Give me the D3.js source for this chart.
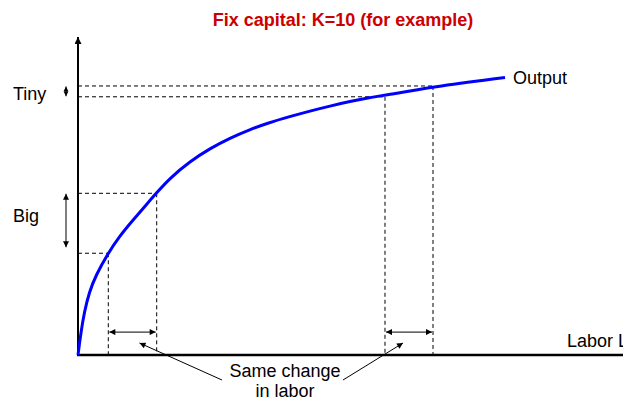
<!DOCTYPE html>
<html>
<head>
<meta charset="utf-8">
<script src="https://cdn.jsdelivr.net/npm/d3@7/dist/d3.min.js"></script>
<style>
  html, body { margin: 0; padding: 0; background: #fff; }
  svg { display: block; }
  text { font-family: "Liberation Sans", Arial, sans-serif; }
</style>
</head>
<body>
<svg id="chart" width="623" height="401"></svg>
<script>
// ---- data ----
const title = "Fix capital: K=10 (for example)";
const labor  = [0, 0.55, 1.16, 2.07, 3.30, 5.50, 7.58, 10.04, 12.48, 14.31, 16.88, 20.55, 24.22, 27.89, 31.56, 34.86, 38.90, 42.57, 46.24, 49.91, 53.58, 56.33, 64.95, 78.35];
const output = [0, 7.23, 13.52, 19.81, 25.16, 31.92, 37.26, 42.30, 47.17, 50.79, 55.66, 60.9, 64.94, 68.24, 70.91, 72.96, 75.00, 76.73, 78.30, 79.72, 80.97, 81.67, 84.28, 87.26];
// the two equal labor changes: [L_start, L_end] and the output at each end
const laborChanges = [[5.56, 14.44], [56.33, 65.14]];
const outputAtChanges = [[32.0, 50.85], [81.2, 84.6]];
const changeLabels = ["Big", "Tiny"];
const curveLabel = "Output";
const xLabel = "Labor L";
const noteLines = ["Same change", "in labor"];

// ---- layout ----
const svg = d3.select("#chart");
const x = d3.scaleLinear().domain([0, 100]).range([78, 623]);
const y = d3.scaleLinear().domain([0, 100]).range([355, 37]);

const defs = svg.append("defs");
function marker(id, w, h) {
  defs.append("marker")
    .attr("id", id)
    .attr("viewBox", "0 0 10 10")
    .attr("refX", 10).attr("refY", 5)
    .attr("markerWidth", w).attr("markerHeight", h)
    .attr("markerUnits", "userSpaceOnUse")
    .attr("orient", "auto-start-reverse")
    .append("path").attr("d", "M0,0 L10,5 L0,10 Z").attr("fill", "#000");
}
marker("ah", 8, 6);
marker("ahs", 5, 6);
marker("axh", 8, 7);

// title
svg.append("text")
  .attr("x", 343).attr("y", 26)
  .attr("text-anchor", "middle")
  .attr("font-size", 18).attr("font-weight", "bold")
  .attr("fill", "#cc0000")
  .text(title);

// dashed guide lines
const dash = svg.append("g").attr("stroke", "#000").attr("stroke-width", 1)
  .attr("stroke-dasharray", "4,3").attr("fill", "none");
laborChanges.forEach((pair, i) => {
  pair.forEach((L, j) => {
    const Y = outputAtChanges[i][j];
    dash.append("line")
      .attr("x1", x(0)).attr("x2", x(L))
      .attr("y1", y(Y)).attr("y2", y(Y));
    dash.append("line")
      .attr("x1", x(L)).attr("x2", x(L))
      .attr("y1", y(Y)).attr("y2", y(0));
  });
});

// axes
svg.append("line")
  .attr("x1", x(0)).attr("x2", x(0))
  .attr("y1", y(0)).attr("y2", y(100))
  .attr("stroke", "#000").attr("stroke-width", 2)
  .attr("marker-end", "url(#axh)");
svg.append("line")
  .attr("x1", x(0) - 1).attr("x2", x(100))
  .attr("y1", y(0)).attr("y2", y(0))
  .attr("stroke", "#000").attr("stroke-width", 2.5);

// curve
const pts = labor.map((L, i) => [L, output[i]]);
svg.append("path")
  .datum(pts)
  .attr("fill", "none")
  .attr("stroke", "#0000ff")
  .attr("stroke-width", 3)
  .attr("d", d3.line().x(d => x(d[0])).y(d => y(d[1])).curve(d3.curveBasis));

// labels
svg.append("text").attr("x", x(labor[labor.length - 1]) + 8).attr("y", 84)
  .attr("font-size", 18).text(curveLabel);
svg.append("text").attr("x", 567).attr("y", 347).attr("font-size", 18).text(xLabel);

// horizontal double arrows for equal labor change
const arrowY = y(7.2);
laborChanges.forEach(pair => {
  svg.append("line")
    .attr("x1", x(pair[0]) + 1).attr("x2", x(pair[1]) - 1)
    .attr("y1", arrowY).attr("y2", arrowY)
    .attr("stroke", "#000").attr("stroke-width", 1)
    .attr("marker-start", "url(#ah)").attr("marker-end", "url(#ah)");
});

// vertical double arrows for output change
const vx = x(0) - 12;
const labelBaselines = [222, 100];
outputAtChanges.forEach((pair, i) => {
  const top = y(pair[1]), bot = y(pair[0]);
  const small = i === 1;
  svg.append("line")
    .attr("x1", vx).attr("x2", vx)
    .attr("y1", small ? bot - 0.5 : bot - 6).attr("y2", top + 0.5)
    .attr("stroke", "#000").attr("stroke-width", 1)
    .attr("marker-start", small ? "url(#ahs)" : "url(#ah)")
    .attr("marker-end", small ? "url(#ahs)" : "url(#ah)");
  svg.append("text")
    .attr("x", 13).attr("y", labelBaselines[i])
    .attr("font-size", 18).text(changeLabels[i]);
});

// note text and pointers
const noteX = 285;
noteLines.forEach((t, i) => {
  svg.append("text").attr("x", noteX).attr("y", 377 + i * 20)
    .attr("text-anchor", "middle").attr("font-size", 18).text(t);
});
const mid = pair => (x(pair[0]) + x(pair[1])) / 2;
const ptrTargets = [[mid(laborChanges[0]) + 7, 343], [mid(laborChanges[1]) - 6, 343]];
const ptrStarts = [[222, 380], [343, 380]];
ptrTargets.forEach((t, i) => {
  svg.append("line")
    .attr("x1", ptrStarts[i][0]).attr("y1", ptrStarts[i][1])
    .attr("x2", t[0]).attr("y2", t[1])
    .attr("stroke", "#000").attr("stroke-width", 1)
    .attr("marker-end", "url(#ah)");
});
</script>
</body>
</html>
